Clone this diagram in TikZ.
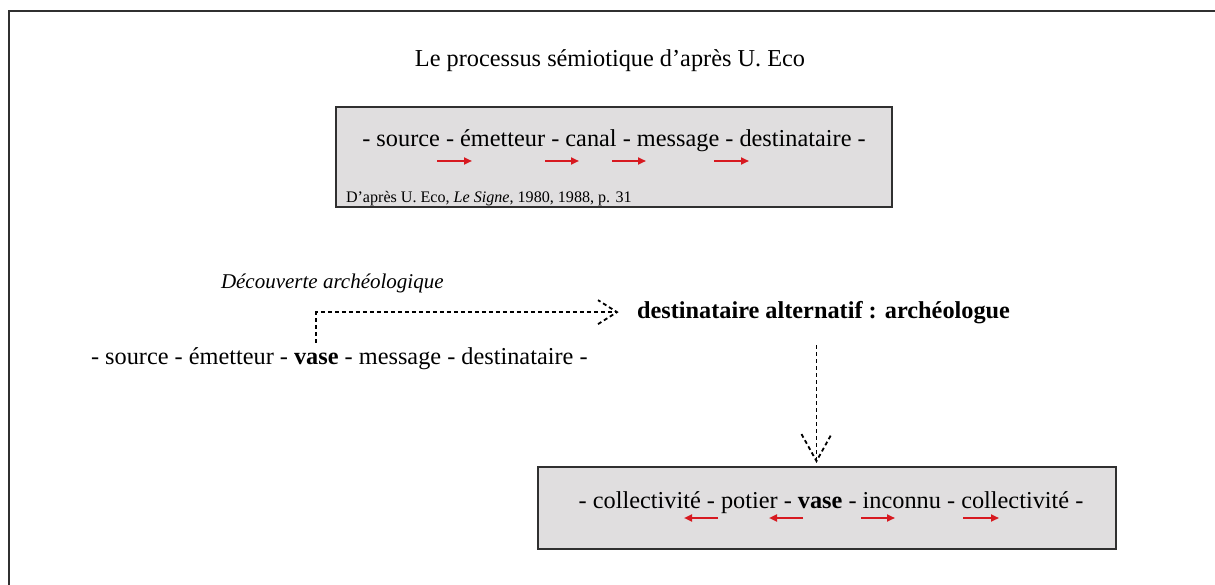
\documentclass[tikz,border=0pt]{standalone}
\usepackage{fontspec}
\setmainfont{Liberation Serif}
\usetikzlibrary{arrows.meta}
\definecolor{boxgray}{HTML}{E0DEDF}
\definecolor{boxline}{HTML}{303030}
\definecolor{arrred}{HTML}{D71920}
\tikzset{
  frameline/.style={line width=2.4pt, draw=boxline},
  greybox/.style={draw=boxline, fill=boxgray, line width=1.8pt, inner sep=0pt},
  txt/.style={inner sep=0pt, outer sep=0pt, font=\fontsize{24.3}{28}\selectfont},
  txtb/.style={inner sep=0pt, outer sep=0pt, font=\fontsize{24.3}{28}\selectfont\bfseries},
  small/.style={inner sep=0pt, outer sep=0pt, font=\fontsize{16.1}{19}\selectfont},
  ital/.style={inner sep=0pt, outer sep=0pt, font=\fontsize{21}{24}\selectfont\itshape},
  redarrow/.style={draw=arrred, line width=2pt, -{Triangle[length=8pt,width=7pt]}},
  dotline/.style={line width=1.8pt, dash pattern=on 4pt off 3pt},
}
\begin{document}
\begin{tikzpicture}[x=1pt,y=-1pt]
\useasboundingbox (0,0) rectangle (1215,585);
% outer frame (top and left edges)
\coordinate (fTL) at (9,11);
\coordinate (fTR) at (1215,11);
\coordinate (fBL) at (9,585);
\draw[frameline] (fTR) -- (fTL) -- (fBL);

% title
\node[txt, anchor=base] (title) at (610,67) {Le processus sémiotique d’après U. Eco};

% top box
\node[greybox, minimum width=556pt, minimum height=100pt] (box1) at (614,157) {};
\node[txt, anchor=base] (chain1) at (614,147) {- source - émetteur - canal - message - destinataire -};
\node[small, anchor=base west] (cite) at (346,203) {D’après U. Eco, \textit{Le Signe}, 1980, 1988, p. 31};
\coordinate (a1s) at (437,161); \coordinate (a1e) at (472,161);
\coordinate (a2s) at (545,161); \coordinate (a2e) at (579,161);
\coordinate (a3s) at (612,161); \coordinate (a3e) at (646,161);
\coordinate (a4s) at (714,161); \coordinate (a4e) at (749,161);
\draw[redarrow] (a1s) -- (a1e);
\draw[redarrow] (a2s) -- (a2e);
\draw[redarrow] (a3s) -- (a3e);
\draw[redarrow] (a4s) -- (a4e);

% discovery label
\node[ital, anchor=base west] (decouv) at (221,288) {Découverte archéologique};

% main line
\node[txt, anchor=base west] (s1) at (91,364) {- source - émetteur -\kern.25em};
\node[txtb, anchor=base west] (vase) at (s1.base east) {vase};
\node[txt, anchor=base west] (s2) at (vase.base east) {\kern.25em- message - destinataire -};

% alternative receiver
\node[txtb, anchor=base west] (alt) at (637,318) {destinataire alternatif : archéologue};

% dotted connector vase -> alt
\coordinate (vs) at ([yshift=10pt]vase.north);
\coordinate (tip1) at ([xshift=-20pt]alt.west);
\draw[dotline] (vs) |- (tip1);
\draw[dotline] ([shift={(-19pt,-12pt)}]tip1) -- (tip1) -- ([shift={(-19pt,12pt)}]tip1);

% bottom box
\node[greybox, minimum width=578pt, minimum height=82pt] (box2) at (827,508) {};
\node[txt, anchor=base] (chain2) at (831,508) {- collectivité - potier - \textbf{vase} - inconnu - collectivité -};
\coordinate (b1s) at (718,518); \coordinate (b1e) at (684,518);
\coordinate (b2s) at (803,518); \coordinate (b2e) at (769,518);
\coordinate (b3s) at (861,518); \coordinate (b3e) at (895,518);
\coordinate (b4s) at (963,518); \coordinate (b4e) at (999,518);
\draw[redarrow] (b1s) -- (b1e);
\draw[redarrow] (b2s) -- (b2e);
\draw[redarrow] (b3s) -- (b3e);
\draw[redarrow] (b4s) -- (b4e);

% dotted connector alt -> box2
\coordinate (altb) at ([shift={(-7pt,-22pt)}]alt.south);
\coordinate (b2n) at ([yshift=5pt]box2.north);
\coordinate (tip2) at (b2n -| altb);
\draw[dotline] (altb) -- (tip2);
\draw[dotline] ([shift={(-15pt,27pt)}]tip2) -- (tip2) -- ([shift={(15pt,27pt)}]tip2);
\end{tikzpicture}
\end{document}
